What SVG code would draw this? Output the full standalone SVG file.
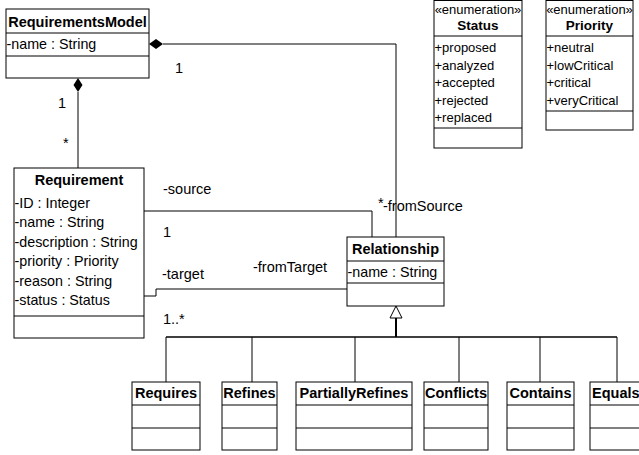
<svg xmlns="http://www.w3.org/2000/svg" width="639" height="455" viewBox="0 0 639 455">
<style>
text{font-family:"Liberation Sans",Arial,sans-serif;fill:#000}
.t{font-size:14.5px;font-weight:bold;text-anchor:middle}
.a{font-size:14.3px}
.e{font-size:13px}
.et{font-size:13.5px;font-weight:bold;text-anchor:middle}
.s{font-size:13px;text-anchor:middle}
.l{font-size:14.5px}
.box{fill:#fff;stroke:#000;stroke-width:1}
.ln{fill:none;stroke:#000;stroke-width:1}
</style>
<rect width="639" height="455" fill="#fff"/>
<g id="connectors">
  <polyline class="ln" points="163,44 396,44 396,237"/>
  <polygon points="149,44 156,39 163,44 156,49" fill="#000"/>
  <line class="ln" x1="78" y1="92" x2="78" y2="168"/>
  <polygon points="78,78 82.5,85 78,92 73.5,85" fill="#000"/>
  <polyline class="ln" points="144,211 372,211 372,237"/>
  <polyline class="ln" points="144,296 156,296 156,289 347,289"/>
  <polygon points="396,306 402,318 390,318" fill="#fff" stroke="#000" stroke-width="1"/>
  <line x1="396" y1="318" x2="396" y2="337" stroke="#000" stroke-width="2"/>
  <line x1="166" y1="337" x2="617" y2="337" stroke="#000" stroke-width="1.5"/>
  <line class="ln" x1="166" y1="337" x2="166" y2="382"/>
  <line class="ln" x1="252" y1="337" x2="252" y2="382"/>
  <line class="ln" x1="355" y1="337" x2="355" y2="382"/>
  <line class="ln" x1="459" y1="337" x2="459" y2="382"/>
  <line class="ln" x1="540" y1="337" x2="540" y2="382"/>
  <line class="ln" x1="617" y1="337" x2="617" y2="382"/>
  <text class="l" x="175" y="73">1</text>
  <text class="l" x="58" y="108">1</text>
  <text class="l" x="63" y="148">*</text>
  <text class="l" x="163" y="194">-source</text>
  <text class="l" x="163" y="237">1</text>
  <text class="l" x="162" y="279">-target</text>
  <text class="l" x="163" y="324">1..*</text>
  <text class="l" x="253" y="272">-fromTarget</text>
  <text class="l" x="378" y="208">*</text>
  <text class="l" x="383" y="211">-fromSource</text>
</g>
<g id="RequirementsModel">
  <rect class="box" x="6" y="9" width="143" height="69"/>
  <line class="ln" x1="6" y1="33" x2="149" y2="33"/>
  <line class="ln" x1="6" y1="56" x2="149" y2="56"/>
  <text class="t" x="77.5" y="27">RequirementsModel</text>
  <text class="a" x="6.5" y="49">-name : String</text>
</g>
<g id="Requirement">
  <rect class="box" x="14" y="168" width="130" height="170"/>
  <line class="ln" x1="14" y1="316" x2="144" y2="316"/>
  <text class="t" x="79" y="185">Requirement</text>
  <text class="a" x="14.5" y="208">-ID : Integer</text>
  <text class="a" x="14.5" y="227">-name : String</text>
  <text class="a" x="14.5" y="247">-description : String</text>
  <text class="a" x="14.5" y="266">-priority : Priority</text>
  <text class="a" x="14.5" y="286">-reason : String</text>
  <text class="a" x="14.5" y="305">-status : Status</text>
</g>
<g id="Relationship">
  <rect class="box" x="347" y="237" width="97" height="69"/>
  <line class="ln" x1="347" y1="261" x2="444" y2="261"/>
  <line class="ln" x1="347" y1="283" x2="444" y2="283"/>
  <text class="t" x="395.5" y="254">Relationship</text>
  <text class="a" x="347.5" y="277">-name : String</text>
</g>
<g id="Status">
  <rect class="box" x="434" y="0.5" width="88" height="147.5"/>
  <line class="ln" x1="434" y1="36" x2="522" y2="36"/>
  <line class="ln" x1="434" y1="128" x2="522" y2="128"/>
  <text class="s" x="478" y="14">«enumeration»</text>
  <text class="et" x="478" y="30">Status</text>
  <text class="e" x="434.5" y="52">+proposed</text>
  <text class="e" x="434.5" y="69.5">+analyzed</text>
  <text class="e" x="434.5" y="87">+accepted</text>
  <text class="e" x="434.5" y="104.5">+rejected</text>
  <text class="e" x="434.5" y="122">+replaced</text>
</g>
<g id="Priority">
  <rect class="box" x="546" y="0.5" width="87" height="129.5"/>
  <line class="ln" x1="546" y1="36" x2="633" y2="36"/>
  <line class="ln" x1="546" y1="111" x2="633" y2="111"/>
  <text class="s" x="589.5" y="14">«enumeration»</text>
  <text class="et" x="589.5" y="30">Priority</text>
  <text class="e" x="546.5" y="52">+neutral</text>
  <text class="e" x="546.5" y="69.5">+lowCritical</text>
  <text class="e" x="546.5" y="87">+critical</text>
  <text class="e" x="546.5" y="104.5">+veryCritical</text>
</g>
<g id="Requires">
  <rect class="box" x="132" y="382" width="68" height="68"/>
  <line class="ln" x1="132" y1="405" x2="200" y2="405"/>
  <line class="ln" x1="132" y1="428" x2="200" y2="428"/>
  <text class="t" x="166" y="398">Requires</text>
</g>
<g id="Refines">
  <rect class="box" x="222" y="382" width="55" height="68"/>
  <line class="ln" x1="222" y1="405" x2="277" y2="405"/>
  <line class="ln" x1="222" y1="428" x2="277" y2="428"/>
  <text class="t" x="249.5" y="398">Refines</text>
</g>
<g id="PartiallyRefines">
  <rect class="box" x="296" y="382" width="116" height="68"/>
  <line class="ln" x1="296" y1="405" x2="412" y2="405"/>
  <line class="ln" x1="296" y1="428" x2="412" y2="428"/>
  <text class="t" x="354" y="398">PartiallyRefines</text>
</g>
<g id="Conflicts">
  <rect class="box" x="424" y="382" width="64" height="68"/>
  <line class="ln" x1="424" y1="405" x2="488" y2="405"/>
  <line class="ln" x1="424" y1="428" x2="488" y2="428"/>
  <text class="t" x="456" y="398">Conflicts</text>
</g>
<g id="Contains">
  <rect class="box" x="507" y="382" width="67" height="68"/>
  <line class="ln" x1="507" y1="405" x2="574" y2="405"/>
  <line class="ln" x1="507" y1="428" x2="574" y2="428"/>
  <text class="t" x="540.5" y="398">Contains</text>
</g>
<g id="Equals">
  <rect class="box" x="590" y="382" width="60" height="68"/>
  <line class="ln" x1="590" y1="405" x2="650" y2="405"/>
  <line class="ln" x1="590" y1="428" x2="650" y2="428"/>
  <text class="t" x="592" y="398" style="text-anchor:start">Equals</text>
</g>
</svg>
